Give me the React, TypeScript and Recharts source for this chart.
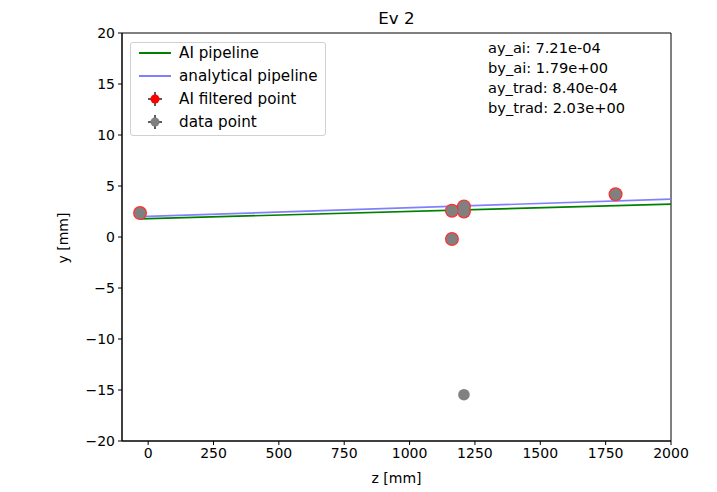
import React from "react";
import {
  ComposedChart,
  XAxis,
  YAxis,
  Line,
  Scatter,
  ReferenceArea,
} from "recharts";

// readings from the reference picture
const filteredZ = [-31, 1162, 1162, 1208, 1208, 1788];
const filteredY = [2.35, 2.58, -0.2, 3.0, 2.5, 4.19];
const pointZ = [-31, 1162, 1162, 1208, 1208, 1788, 1208];
const pointY = [2.35, 2.58, -0.2, 3.0, 2.5, 4.19, -15.46];
const lineZ = [-31, 2000];
const aiLineY = [1.77, 3.23];
const tradLineY = [2.0, 3.71];
const xTicks = [0, 250, 500, 750, 1000, 1250, 1500, 1750, 2000];
const yTicks = [-20, -15, -10, -5, 0, 5, 10, 15, 20];
const fitText = [
  "ay_ai: 7.21e-04",
  "by_ai: 1.79e+00",
  "ay_trad: 8.40e-04",
  "by_trad: 2.03e+00",
];

const filtered = filteredZ.map((z, i) => ({ z, y: filteredY[i] }));
const points = pointZ.map((z, i) => ({ z, y: pointY[i] }));
const aiLine = lineZ.map((z, i) => ({ z, y: aiLineY[i] }));
const tradLine = lineZ.map((z, i) => ({ z, y: tradLineY[i] }));

const FONT = "'DejaVu Sans', sans-serif";
const tickStyle = { fill: "#000", fontSize: 14, fontFamily: FONT };

const dot = (r: number, fill: string) => (props: any) =>
  <circle cx={props.cx} cy={props.cy} r={r} fill={fill} />;

const ErrMarker = ({ color }: { color: string }) => (
  <svg width={20} height={16} style={{ display: "block" }}>
    <line x1={10} y1={1} x2={10} y2={15} stroke="#000" strokeWidth={1.3} />
    <line x1={3} y1={8} x2={17} y2={8} stroke="#000" strokeWidth={1.3} />
    <circle cx={10} cy={8} r={4.5} fill={color} />
  </svg>
);

const legendRows = [
  { label: "AI pipeline", kind: "line", color: "#008000" },
  { label: "analytical pipeline", kind: "line", color: "#8080ff" },
  { label: "AI filtered point", kind: "err", color: "#ff0000" },
  { label: "data point", kind: "err", color: "#808080" },
];

export default function App() {
  return (
    <div
      style={{
        position: "absolute",
        left: 0,
        top: 0,
        width: 717,
        height: 492,
        background: "#fff",
        fontFamily: FONT,
      }}
    >
      <ComposedChart
        width={717}
        height={492}
        margin={{ top: 33, right: 46, left: 0, bottom: 0 }}
      >
        <XAxis
          dataKey="z"
          type="number"
          domain={[-100, 2000]}
          ticks={xTicks}
          allowDataOverflow
          height={51}
          tickSize={4}
          tickMargin={3}
          stroke="#000"
          tick={tickStyle}
        />
        <YAxis
          dataKey="y"
          type="number"
          domain={[-20, 20]}
          ticks={yTicks}
          allowDataOverflow
          width={122}
          tickSize={4}
          tickMargin={3}
          stroke="#000"
          tick={tickStyle}
          tickFormatter={(v) => String(v).replace("-", "\u2212")}
        />
        <ReferenceArea
          x1={-100}
          x2={2000}
          y1={-20}
          y2={20}
          fill="none"
          stroke="#000"
          strokeOpacity={1}
          fillOpacity={0}
        />
        <Line
          data={aiLine}
          dataKey="y"
          stroke="#008000"
          strokeWidth={1.7}
          dot={false}
          isAnimationActive={false}
        />
        <Line
          data={tradLine}
          dataKey="y"
          stroke="#8080ff"
          strokeWidth={1.7}
          dot={false}
          isAnimationActive={false}
        />
        <Scatter
          data={filtered}
          dataKey="y"
          shape={dot(7, "#ff3030")}
          isAnimationActive={false}
        />
        <Scatter
          data={points}
          dataKey="y"
          shape={dot(5.8, "#808080")}
          isAnimationActive={false}
        />
      </ComposedChart>

      <div
        style={{
          position: "absolute",
          left: 122,
          width: 549,
          top: 8,
          textAlign: "center",
          fontSize: 16.7,
          color: "#000",
        }}
      >
        Ev 2
      </div>
      <div
        style={{
          position: "absolute",
          left: 122,
          width: 549,
          top: 470,
          textAlign: "center",
          fontSize: 14,
          color: "#000",
        }}
      >
        z [mm]
      </div>
      <div
        style={{
          position: "absolute",
          left: 63,
          top: 238,
          transform: "translate(-50%, -50%) rotate(-90deg)",
          fontSize: 14,
          whiteSpace: "nowrap",
          color: "#000",
        }}
      >
        y [mm]
      </div>

      <div
        style={{
          position: "absolute",
          left: 130,
          top: 42,
          width: 194,
          height: 92,
          border: "1px solid #d0d0d0",
          borderRadius: 3,
          background: "rgba(255,255,255,0.8)",
        }}
      >
        {legendRows.map((r, i) => (
          <div
            key={r.label}
            style={{
              position: "absolute",
              left: 0,
              top: -1 + i * 22.9,
              height: 22,
              display: "flex",
              alignItems: "center",
              fontSize: 15.2,
              whiteSpace: "nowrap",
              color: "#000",
            }}
          >
            <div style={{ width: 48, display: "flex", justifyContent: "center" }}>
              {r.kind === "line" ? (
                <div style={{ width: 32, height: 2, background: r.color }} />
              ) : (
                <ErrMarker color={r.color} />
              )}
            </div>
            <span>{r.label}</span>
          </div>
        ))}
      </div>

      <div
        style={{
          position: "absolute",
          left: 488,
          top: 38,
          fontSize: 14.6,
          lineHeight: "20px",
          color: "#000",
          whiteSpace: "nowrap",
        }}
      >
        {fitText.map((t) => (
          <div key={t}>{t}</div>
        ))}
      </div>
    </div>
  );
}
